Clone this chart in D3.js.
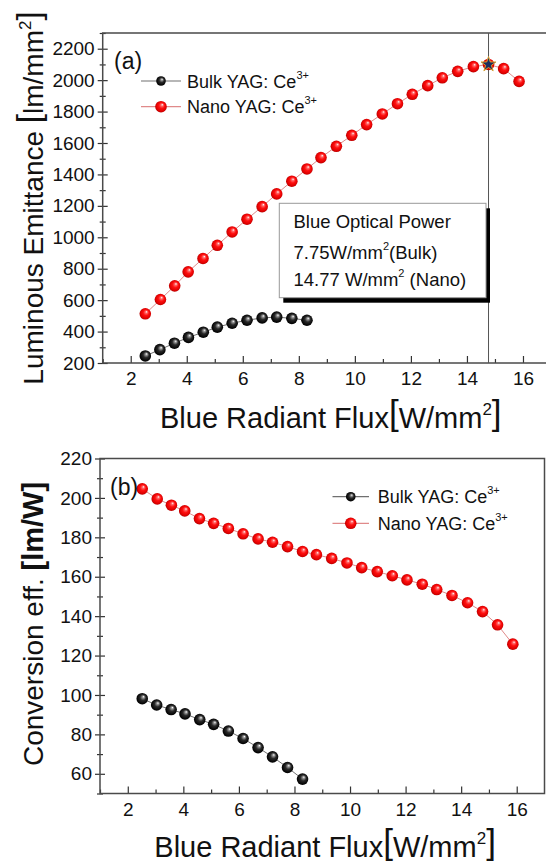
<!DOCTYPE html>
<html><head><meta charset="utf-8">
<script src="https://cdn.jsdelivr.net/npm/d3@7/dist/d3.min.js"></script>
<style>
body{margin:0;background:#fff}
svg{display:block}
text{font-family:"Liberation Sans",Arial,Helvetica,sans-serif;fill:#111}
</style>
</head><body>
<svg id="chart" width="546" height="862"></svg>
<script>
// ---------------- data ----------------
const nanoFlux = [2.52, 3.06, 3.57, 4.05, 4.58, 5.09, 5.62, 6.15, 6.69, 7.21, 7.75, 8.29, 8.79,
                  9.34, 9.89, 10.42, 10.98, 11.52, 12.05, 12.60, 13.12, 13.67, 14.23, 14.77, 15.31, 15.86];
const bulkFlux = [2.52, 3.04, 3.56, 4.06, 4.59, 5.09, 5.62, 6.15, 6.69, 7.21, 7.75, 8.29];

const nanoLum = [513, 604, 691, 780, 865, 949, 1034, 1115, 1195, 1276, 1357, 1435, 1507,
                 1579, 1649, 1717, 1785, 1850, 1910, 1965, 2015, 2056, 2086, 2100, 2073, 1992];
const bulkLum = [245, 285, 326, 363, 396, 428, 453, 472, 487, 492, 484, 472];

const nanoEff = [204.6, 199.5, 196.3, 193.4, 189.5, 187.1, 184.5, 181.8, 179.2, 177.5, 175.3, 172.8, 171.2,
                 169.3, 167.0, 164.6, 162.6, 160.5, 158.4, 156.2, 153.5, 150.5, 146.8, 142.3, 135.6, 125.8];
const bulkEff = [98.1, 94.9, 92.6, 90.4, 87.5, 85.1, 81.7, 77.9, 73.3, 68.6, 63.2, 57.3];

const xTicks = [2, 4, 6, 8, 10, 12, 14, 16];
const xMinorTicks = [1, 3, 5, 7, 9, 11, 13, 15, 17];
const lumTicks = [200, 400, 600, 800, 1000, 1200, 1400, 1600, 1800, 2000, 2200];
const lumMinorTicks = [300, 500, 700, 900, 1100, 1300, 1500, 1700, 1900, 2100, 2300];
const effTicks = [60, 80, 100, 120, 140, 160, 180, 200, 220];
const effMinorTicks = [50, 70, 90, 110, 130, 150, 170, 190, 210];

const seriesNames = ["Bulk YAG: Ce", "Nano YAG: Ce"];
const peakFlux = 14.77, peakLum = 2100;
const boxLines = [
  {parts: [["Blue Optical Power", false]]},
  {parts: [["7.75W/mm", false], ["2", true], ["(Bulk)", false]]},
  {parts: [["14.77 W/mm", false], ["2", true], [" (Nano)", false]]}
];

// ---------------- drawing ----------------
const svg = d3.select("#chart");
const defs = svg.append("defs");
function ballGrad(id, stops) {
  const g = defs.append("radialGradient").attr("id", id)
    .attr("cx", "50%").attr("cy", "50%").attr("r", "55%")
    .attr("fx", "62%").attr("fy", "32%");
  stops.forEach(s => g.append("stop").attr("offset", s[0]).attr("stop-color", s[1]));
}
ballGrad("gRed", [["0%", "#ffffff"], ["18%", "#ff6a6a"], ["45%", "#ff1010"], ["80%", "#dd0000"], ["100%", "#a00000"]]);
ballGrad("gBlack", [["0%", "#ffffff"], ["16%", "#9a9a9a"], ["45%", "#2a2a2a"], ["80%", "#080808"], ["100%", "#000000"]]);

const styles = [
  {fill: "url(#gBlack)", line: "#707070"},
  {fill: "url(#gRed)", line: "#e08a8a"}
];

function panel(cfg) {
  const g = svg.append("g");
  const x = d3.scaleLinear().domain([1, 17]).range([cfg.left, cfg.right]);
  const y = d3.scaleLinear().domain(cfg.yDomain).range([cfg.bottom, cfg.top]);
  const fmt = d3.format("d");

  const xa = g.append("g").attr("transform", `translate(0,${cfg.bottom})`)
    .call(d3.axisBottom(x).tickValues(xTicks).tickFormat(fmt).tickSizeInner(-7).tickSizeOuter(0).tickPadding(9));
  const xm = g.append("g").attr("transform", `translate(0,${cfg.bottom})`)
    .call(d3.axisBottom(x).tickValues(xMinorTicks.filter(v => x(v) <= cfg.right - 1)).tickSizeInner(-4).tickSizeOuter(0).tickFormat(""));
  const ya = g.append("g").attr("transform", `translate(${cfg.left},0)`)
    .call(d3.axisLeft(y).tickValues(cfg.yTicks).tickFormat(fmt).tickSizeInner(5).tickSizeOuter(0).tickPadding(3));
  ya.selectAll(".tick line").attr("x1", 5);
  const ym = g.append("g").attr("transform", `translate(${cfg.left},0)`)
    .call(d3.axisLeft(y).tickValues(cfg.yMinor).tickSizeInner(3).tickSizeOuter(0).tickFormat(""));
  ym.selectAll(".tick line").attr("x1", 3);
  [xa, xm, ya, ym].forEach(a => {
    a.select(".domain").remove();
    a.selectAll(".tick line").attr("stroke", "#333").attr("stroke-width", 1.2);
    a.selectAll("text").style("font-size", "19px").attr("fill", "#111")
      .style("font-family", '"Liberation Sans",Arial,sans-serif');
  });

  g.append("rect").attr("x", cfg.left).attr("y", cfg.top)
    .attr("width", cfg.right - cfg.left).attr("height", cfg.bottom - cfg.top)
    .attr("fill", "none").attr("stroke", "#4a4a4a").attr("stroke-width", 1.5);

  return {g, x, y};
}

function drawSeries(p, xs, ys, st, r) {
  const pts = xs.map((v, i) => [v, ys[i]]);
  p.g.append("path").datum(pts)
    .attr("d", d3.line().x(d => p.x(d[0])).y(d => p.y(d[1])))
    .attr("fill", "none").attr("stroke", st.line).attr("stroke-width", 1);
  p.g.append("g").selectAll("circle").data(pts).join("circle")
    .attr("cx", d => p.x(d[0])).attr("cy", d => p.y(d[1])).attr("r", r)
    .attr("fill", st.fill);
}

function legend(g, x0, x1, y0, dyRow, textX) {
  seriesNames.forEach((name, i) => {
    const yy = y0 + i * dyRow;
    g.append("line").attr("x1", x0).attr("x2", x1).attr("y1", yy).attr("y2", yy)
      .attr("stroke", styles[i].line).attr("stroke-width", 1.2);
    g.append("circle").attr("cx", (x0 + x1) / 2).attr("cy", yy).attr("r", i === 0 ? 4.8 : 5.8)
      .attr("fill", styles[i].fill);
    const t = g.append("text").attr("x", textX).attr("y", yy + 6.5).style("font-size", "18px");
    t.append("tspan").text(name);
    t.append("tspan").text("3+").style("font-size", "11px").attr("dy", -9);
  });
}

function xLabel(x0, baseline) {
  const t = svg.append("text").attr("x", x0).attr("y", baseline).style("font-size", "29px");
  t.append("tspan").text("Blue Radiant Flux");
  t.append("tspan").text("[").style("font-size", "35px").attr("dy", -3);
  t.append("tspan").text("W/mm").attr("dy", 3);
  t.append("tspan").text("2").style("font-size", "17px").attr("dy", -13);
  t.append("tspan").text("]").style("font-size", "35px").attr("dy", 10);
}

// ---------- panel (a) ----------
const pa = panel({left: 102.7, right: 551, top: 33, bottom: 363,
  yDomain: [200, 2300], yTicks: lumTicks, yMinor: lumMinorTicks});

pa.g.append("line").attr("x1", pa.x(peakFlux)).attr("x2", pa.x(peakFlux))
  .attr("y1", pa.y(2300)).attr("y2", pa.y(200)).attr("stroke", "#555").attr("stroke-width", 1);

drawSeries(pa, bulkFlux, bulkLum, styles[0], 5.8);
drawSeries(pa, nanoFlux, nanoLum, styles[1], 5.8);

pa.g.append("path").attr("d", d3.symbol(d3.symbolStar, 70)())
  .attr("transform", `translate(${pa.x(peakFlux)},${pa.y(peakLum)})`)
  .attr("fill", "#1c2d5e").attr("stroke", "#d8a030").attr("stroke-width", 1);

pa.g.append("text").attr("x", 114).attr("y", 68.5).style("font-size", "23px").text("(a)");
legend(pa.g, 141, 181, 81, 25.7, 187);

const bx = 279.3, by = 203.3, bw = 206.7, bh = 94.4;
pa.g.append("rect").attr("x", bx + 4).attr("y", by + 5).attr("width", bw).attr("height", bh).attr("fill", "#000");
pa.g.append("rect").attr("x", bx).attr("y", by).attr("width", bw).attr("height", bh)
  .attr("fill", "#fff").attr("stroke", "#999").attr("stroke-width", 1);
const baselines = [227.5, 258.5, 286];
boxLines.forEach((ln, i) => {
  const t = pa.g.append("text").attr("x", 293.5).attr("y", baselines[i]).style("font-size", "18.5px");
  ln.parts.forEach(([s, sup], j) => {
    const ts = t.append("tspan").text(s);
    if (sup) ts.style("font-size", "11px").attr("dy", -9);
    else if (j > 0 && ln.parts[j - 1][1]) ts.attr("dy", 9);
  });
});

{
  const t = svg.append("text").attr("transform", "translate(43,198) rotate(-90)")
    .attr("text-anchor", "middle").style("font-size", "28px");
  t.append("tspan").text("Luminous Emittance ");
  t.append("tspan").text("[").style("font-size", "33px").attr("dy", -3);
  t.append("tspan").text("lm/mm").attr("dy", 3);
  t.append("tspan").text("2").style("font-size", "17px").attr("dy", -12);
  t.append("tspan").text("]").style("font-size", "33px").attr("dy", 9);
}
xLabel(160, 428);

// ---------- panel (b) ----------
const pb = panel({left: 100, right: 544.5, top: 458.5, bottom: 793.5,
  yDomain: [50, 220], yTicks: effTicks, yMinor: effMinorTicks});
drawSeries(pb, bulkFlux, bulkEff, styles[0], 5.8);
drawSeries(pb, nanoFlux, nanoEff, styles[1], 5.8);
pb.g.append("text").attr("x", 110).attr("y", 494.5).style("font-size", "23px").text("(b)");
legend(pb.g, 332.5, 369, 496.7, 26.6, 377.8);

{
  const t = svg.append("text").attr("transform", "translate(43,624) rotate(-90)")
    .attr("text-anchor", "middle").style("font-size", "28px");
  t.append("tspan").text("Conversion eff. ");
  t.append("tspan").text("[lm/W]").style("font-weight", "bold").style("font-size", "29px");
}
xLabel(154.3, 857);
</script>
</body></html>
